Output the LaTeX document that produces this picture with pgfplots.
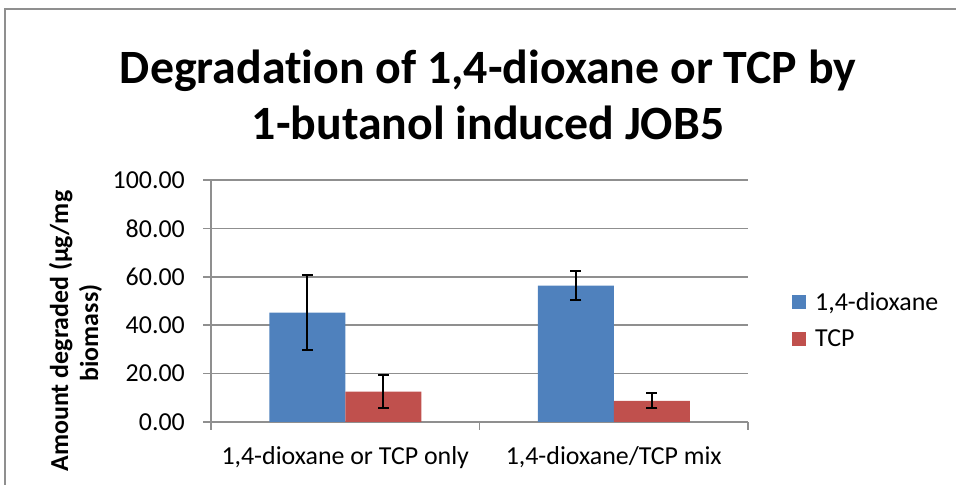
\documentclass[border=0pt]{standalone}
\usepackage{fontspec}
\setmainfont{Carlito}[Ligatures=NoCommon]
\usepackage{pgfplots}
\pgfplotsset{compat=1.18}
\definecolor{barblue}{HTML}{4F81BD}
\definecolor{barred}{HTML}{C0504D}
\definecolor{gridgray}{HTML}{8F8F8F}
\begin{document}
\begin{tikzpicture}[x=1bp,y=1bp]
\useasboundingbox (0,0) rectangle (956,485);
\draw[gridgray, line width=1.5bp] (5,-5) -- (5,476) -- (965,476);
\node[font=\fontsize{48}{56}\selectfont\bfseries, anchor=base] at (488,401) {Degradation of 1,4-dioxane or TCP by};
\node[font=\fontsize{48}{56}\selectfont\bfseries, anchor=base] at (488,345) {1-butanol induced JOB5};
\node[font=\fontsize{26}{30}\selectfont\bfseries, anchor=base, rotate=90] at (68,154) {Amount degraded (µg/mg};
\node[font=\fontsize{26}{30}\selectfont\bfseries, anchor=base, rotate=90] at (98,152) {biomass)};
\begin{axis}[
  at={(211bp,63bp)}, anchor=south west,
  scale only axis, width=537bp, height=242bp,
  ybar=0pt, bar width=76bp,
  xmin=-0.5, xmax=1.5, ymin=0, ymax=100,
  axis x line*=bottom, axis y line*=left,
  axis line style={gridgray, line width=1.5bp, -},
  ytick={0,20,40,60,80,100},
  yticklabels={0.00,20.00,40.00,60.00,80.00,100.00},
  ymajorgrids, grid style={gridgray, line width=1.5bp},
  tick align=outside, major tick length=8bp,
  tick style={gridgray, line width=1.5bp},
  xtick={-0.5,0.5,1.5}, xticklabels={},
  extra x ticks={0,1},
  extra x tick labels={{1,4-dioxane or TCP only}, {1,4-dioxane/TCP mix}},
  extra x tick style={major tick length=0pt, grid=none},
  ticklabel style={font=\fontsize{26}{30}\selectfont},
  yticklabel style={anchor=east, inner sep=0pt, xshift=-18bp},
  xticklabel style={anchor=base, inner sep=0pt, yshift=-43bp},
  legend style={at={(1.082,0.421)}, anchor=west, draw=none, fill=none,
    font=\fontsize{26}{30}\selectfont, row sep=14bp, column sep=7bp,
    inner sep=0pt, cells={anchor=west}},
  legend image code/.code={\fill[#1] (0bp,-7bp) rectangle (14bp,7bp);},
  error bars/y dir=both, error bars/y explicit,
  error bars/error bar style={black, line width=2bp},
  error bars/error mark options={black, rotate=90, mark size=5.5bp, line width=2bp},
]
\addplot[fill=barblue, draw=none] coordinates {(0,45.15) +- (0,15.6) (1,56.35) +- (0,6.1)};
\addlegendentry{{1,4-dioxane}}
\addplot[fill=barred, draw=none] coordinates {(0,12.6) +- (0,7.0) (1,8.7) +- (0,3.1)};
\addlegendentry{TCP}
\end{axis}
\end{tikzpicture}
\end{document}
